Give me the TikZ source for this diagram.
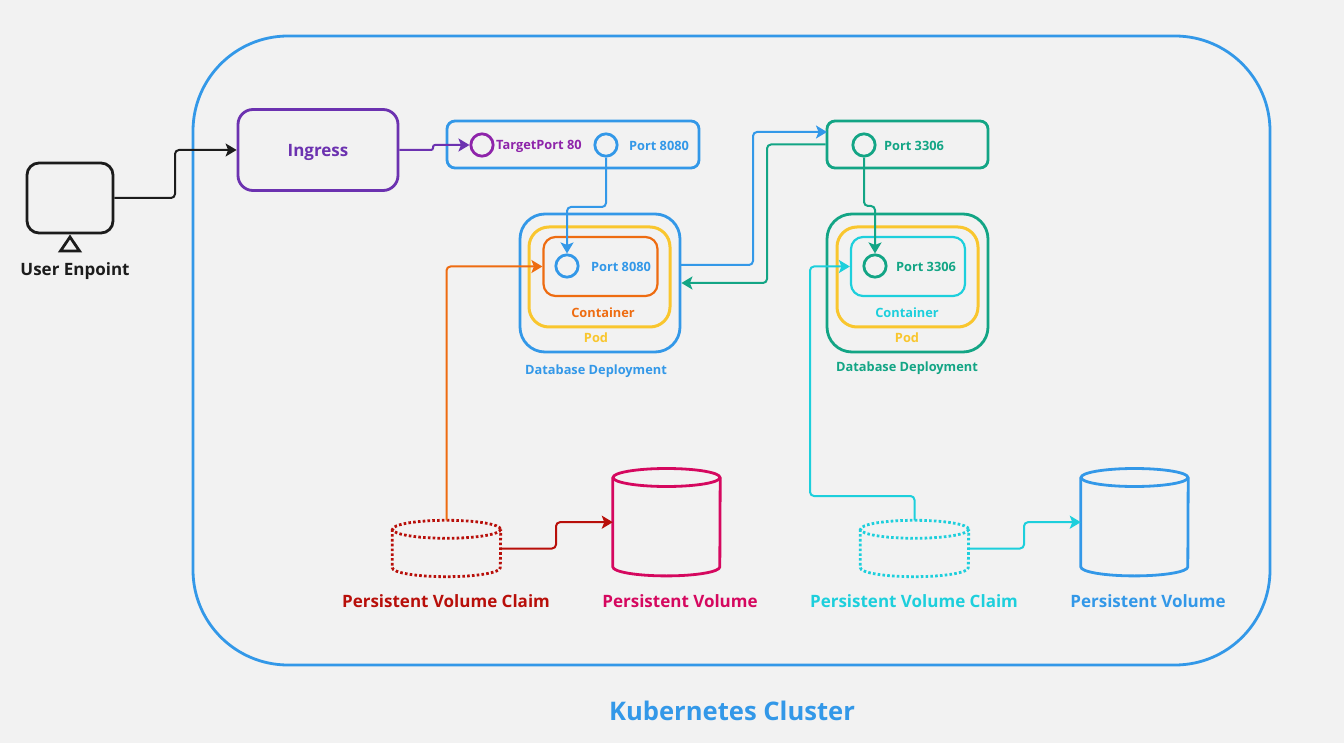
\documentclass[tikz,border=0pt]{standalone}
\usepackage{fontspec}
\setmainfont{Open Sans}
\usetikzlibrary{positioning, calc, arrows.meta, shapes.geometric}

\definecolor{bgcol}{HTML}{F2F2F2}
\definecolor{blue1}{HTML}{3398E8}
\definecolor{green1}{HTML}{13A585}
\definecolor{cyan1}{HTML}{1DCFDC}
\definecolor{orange1}{HTML}{EE6C11}
\definecolor{yellow1}{HTML}{F9C62E}
\definecolor{purple1}{HTML}{6C32B0}
\definecolor{purple2}{HTML}{8E24AA}
\definecolor{red1}{HTML}{B80F0A}
\definecolor{pink1}{HTML}{D5085F}
\definecolor{black1}{HTML}{1C1C1C}

\tikzset{
    box/.style={draw, rounded corners=#1, line width=2.8pt},
    box/.default=12pt,
    port/.style={draw, circle, line width=2.8pt, minimum size=22.3pt, inner sep=0pt},
    txt/.style={inner sep=0pt, font=\bfseries\fontsize{12.8}{15}\selectfont},
    porttxt/.style={txt, yshift=-1pt},
    bigtxt/.style={inner sep=0pt, font=\bfseries\fontsize{17}{20}\selectfont},
    conn/.style={line width=2pt, rounded corners=4pt, -{Stealth[length=11pt,width=13pt,inset=2.5pt]}},
    vol/.style={inner sep=0pt, minimum width=107pt, minimum height=107pt},
    pvc/.style={inner sep=0pt, minimum width=108pt, minimum height=56pt},
    volline/.style={line width=2.8pt},
    pvcline/.style={line width=2.8pt, dash pattern=on 2.6pt off 2.2pt},
}

% cylinder drawn over a named node: node, x radius, line style
\newcommand{\drawcyl}[3]{
    \draw[#3] ($(#1.north)+(0,9)$) ellipse [x radius=#2, y radius=9];
    \draw[#3] ($(#1.north west)+(0,9)$) -- ($(#1.south west)+(0,-9)$)
        arc [start angle=180, end angle=0, x radius=#2, y radius=9]
        -- ($(#1.north east)+(0,9)$);
}

\begin{document}
\begin{tikzpicture}[x=1pt, y=-1pt]

    \fill[bgcol] (0,0) rectangle (1344,743);
    \useasboundingbox (0,0) rectangle (1344,743);

    % Cluster
    \node (cluster) [box=95pt, blue1, minimum width=1077pt, minimum height=629pt] at (731.5,350.5) {};
    \node (clustertxt) [inner sep=0pt, blue1, font=\bfseries\fontsize{25.6}{30}\selectfont] at (732,711) {Kubernetes Cluster};

    % User and ingress
    \node (user) [box, black1, minimum width=86pt, minimum height=70pt] at (70,198) {};
    \node (usertri) [draw, black1, isosceles triangle, isosceles triangle apex angle=68, isosceles triangle stretches,
        shape border rotate=90, line width=2.8pt, minimum width=19pt, minimum height=14pt, inner sep=0pt, anchor=apex] at (70,234.5) {};
    \node (usertxt) [bigtxt, black1] at (75,271) {User Enpoint};
    \node (ingress) [box=15pt, purple1, minimum width=160pt, minimum height=81pt] at (318,150) {};
    \node (ingresstxt) [purple1, inner sep=0pt, font=\bfseries\fontsize{17}{20}\selectfont] at (318,152) {Ingress};

    % Blue service
    \node (svcA) [box=8pt, blue1, minimum width=252pt, minimum height=47pt] at (573,144.5) {};
    \node (target) [port, purple2] at (482,145) {};
    \node (targettxt) [txt, purple2, anchor=west] at (496,146.5) {TargetPort 80};
    \node (svcportA) [port, blue1] at (606,145) {};
    \node (svcportAtxt) [porttxt, blue1, right=10.3pt of svcportA] {Port 8080};

    % Blue deployment
    \node (depA) [box=25pt, blue1, minimum width=160pt, minimum height=138pt] at (600,283) {};
    \node (podA) [box=20pt, yellow1, line width=3pt, minimum width=141pt, minimum height=100pt] at (599.5,277) {};
    \node (contA) [box, orange1, line width=2.2pt, minimum width=114pt, minimum height=59pt] at (600.5,266.5) {};
    \node (portA) [port, blue1] at (567,266) {};
    \node (portAtxt) [porttxt, blue1, right=11.3pt of portA] {Port 8080};
    \node (contAtxt) [txt, orange1] at (603,312.5) {Container};
    \node (podAtxt) [txt, yellow1] at (596,337.5) {Pod};
    \node (depAtxt) [txt, blue1] at (596,371) {Database Deployment};

    % Green service
    \node (svcB) [box=8pt, green1, minimum width=161pt, minimum height=47pt] at (907.5,144.5) {};
    \node (svcportB) [port, green1] at (864,145) {};
    \node (svcportBtxt) [porttxt, green1, right=7.3pt of svcportB] {Port 3306};

    % Green deployment
    \node (depB) [box=25pt, green1, minimum width=161pt, minimum height=138pt] at (907.5,283) {};
    \node (podB) [box=20pt, yellow1, line width=3pt, minimum width=141pt, minimum height=100pt] at (907.5,277) {};
    \node (contB) [box, cyan1, line width=2.2pt, minimum width=114pt, minimum height=59pt] at (908,266.5) {};
    \node (portB) [port, green1] at (875,266) {};
    \node (portBtxt) [porttxt, green1, right=8.3pt of portB] {Port 3306};
    \node (contBtxt) [txt, cyan1] at (907,312.5) {Container};
    \node (podBtxt) [txt, yellow1] at (907,337.5) {Pod};
    \node (depBtxt) [txt, green1] at (907,368) {Database Deployment};

    % Volumes
    \node (pvcA) [pvc] at (446.5,548.5) {};
    \node (pvA) [vol] at (666.5,522.2) {};
    \node (pvcB) [pvc] at (914.5,548.5) {};
    \node (pvB) [vol] at (1134.5,522.2) {};
    \drawcyl{pvcA}{54}{pvcline, red1}
    \drawcyl{pvA}{53.5}{volline, pink1}
    \drawcyl{pvcB}{54}{pvcline, cyan1}
    \drawcyl{pvB}{53.5}{volline, blue1}
    \node (pvcAtxt) [bigtxt, red1] at (446,601) {Persistent Volume Claim};
    \node (pvAtxt) [bigtxt, pink1] at (680,601) {Persistent Volume};
    \node (pvcBtxt) [bigtxt, cyan1] at (914,601) {Persistent Volume Claim};
    \node (pvBtxt) [bigtxt, blue1] at (1148,601) {Persistent Volume};

    % Connectors
    \coordinate (userbend) at (175,150);
    \draw[conn, black1] (user.east) -| (userbend) -- (ingress.west);
    \coordinate (ingbend) at (433,145);
    \draw[conn, purple1, rounded corners=2pt] (ingress.east) -| (ingbend) -- (target.west);
    \coordinate (portAbend) at (606,207);
    \draw[conn, blue1] (svcportA.south) -- (portAbend) -| (portA.north);
    \coordinate (portBbend) at (864,206);
    \draw[conn, green1] (svcportB.south) -- (portBbend) -| (portB.north);
    \coordinate (depAout) at (680,265);
    \coordinate (svcBin) at (827,132);
    \draw[conn, blue1] (depAout) -| (753,132) -- (svcBin);
    \draw[conn, green1] (svcB.west) -| (767,283) -- (depA.east);
    \draw[conn, orange1] (pvcA.north) |- (contA.west);
    \coordinate (pvcBbend) at (810,496);
    \draw[conn, cyan1] (pvcB.north) |- (pvcBbend) |- (contB.west);
    \coordinate (pvAbend) at (556,522.2);
    \coordinate (pvBbend) at (1024,522.2);
    \draw[conn, red1] (pvcA.east) -| (pvAbend) -- (pvA.west);
    \draw[conn, cyan1] (pvcB.east) -| (pvBbend) -- (pvB.west);

\end{tikzpicture}
\end{document}
